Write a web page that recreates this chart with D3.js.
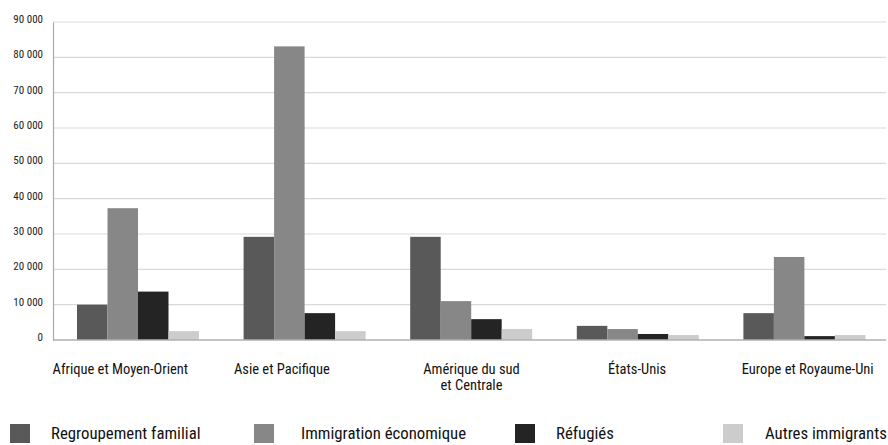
<!DOCTYPE html>
<html lang="fr">
<head>
<meta charset="utf-8">
<script src="https://cdn.jsdelivr.net/npm/d3@7"></script>
<style>
  html, body { margin: 0; padding: 0; background: #fff; }
  svg { display: block; }
  svg text { font-family: "Roboto", sans-serif; font-stretch: condensed; }
</style>
</head>
<body>
<svg id="chart" width="888" height="445"></svg>
<script>
// Régions d'origine
const categories = [
  ["Afrique et Moyen-Orient"],
  ["Asie et Pacifique"],
  ["Amérique du sud", "et Centrale"],
  ["États-Unis"],
  ["Europe et Royaume-Uni"]
];
const categoryKeys = ["afrique", "asie", "amerique", "etatsunis", "europe"];

// Catégories d'immigration
const seriesNames = ["Regroupement familial", "Immigration économique", "Réfugiés", "Autres immigrants"];
const seriesColors = ["#595959", "#878787", "#242424", "#cccccc"];

// Nombre d'admissions par catégorie (une valeur par région)
const regroupementFamilial = [10000, 29200, 29200, 4000, 7600];
const immigrationEconomique = [37300, 83100, 11000, 3100, 23500];
const refugies = [13700, 7600, 5900, 1700, 1100];
const autresImmigrants = [2500, 2500, 3100, 1400, 1400];

const yTicks = [0, 10000, 20000, 30000, 40000, 50000, 60000, 70000, 80000, 90000];

const seriesValues = [regroupementFamilial, immigrationEconomique, refugies, autresImmigrants];

const svg = d3.select("#chart");
const plot = { left: 53, right: 886, top: 22, bottom: 340 };

const y = d3.scaleLinear().domain([0, 90000]).range([plot.bottom, plot.top]);
const x0 = d3.scaleBand().domain(categoryKeys).range([plot.left, plot.right]).padding(0);
const x1 = d3.scaleBand().domain(d3.range(seriesNames.length))
  .range([24, 24 + 122]).padding(0);

const fmt = v => d3.format(",")(v).replace(/,/g, " ");

// Lignes de quadrillage horizontales
svg.append("g")
  .selectAll("line")
  .data(yTicks.filter(t => t > 0))
  .join("line")
  .attr("x1", plot.left).attr("x2", plot.right)
  .attr("y1", d => y(d)).attr("y2", d => y(d))
  .attr("stroke", "#d9d9d9").attr("stroke-width", 1.2);

// Axe des ordonnées
const yAxis = svg.append("g")
  .attr("transform", `translate(${plot.left},0)`)
  .call(d3.axisLeft(y).tickValues(yTicks).tickFormat(fmt).tickSize(0).tickPadding(10));
yAxis.select(".domain").attr("stroke", "#aaaaaa").attr("stroke-width", 1.2);
yAxis.selectAll("text")
  .attr("font-size", 11).attr("fill", "#222")
  .attr("dy", "0.05em")
  .attr("font-family", null);

// Barres groupées
const groups = svg.append("g")
  .selectAll("g")
  .data(categoryKeys)
  .join("g")
  .attr("transform", d => `translate(${x0(d)},0)`);

groups.selectAll("rect")
  .data((d, i) => seriesValues.map((s, j) => ({ serie: j, value: s[i] })))
  .join("rect")
  .attr("x", d => x1(d.serie))
  .attr("width", x1.bandwidth())
  .attr("y", d => y(d.value))
  .attr("height", d => y(0) - y(d.value))
  .attr("fill", d => seriesColors[d.serie]);

// Ligne de base
svg.append("line")
  .attr("x1", plot.left).attr("x2", plot.right)
  .attr("y1", y(0)).attr("y2", y(0))
  .attr("stroke", "#b0b0b0").attr("stroke-width", 1.5);

// Étiquettes des régions (léger décalage horizontal par étiquette)
const labelShift = [-16, -21, 2, 1, 5];
const labelX = (d, i) => x0(d) + x0.bandwidth() / 2 + labelShift[i];
const labels = svg.append("g")
  .selectAll("text")
  .data(categoryKeys)
  .join("text")
  .attr("y", 374)
  .attr("text-anchor", "middle")
  .attr("font-size", 14.5)
  .attr("fill", "#111");
labels.each(function (d, i) {
  d3.select(this).selectAll("tspan")
    .data(categories[i])
    .join("tspan")
    .attr("x", labelX(d, i))
    .attr("dy", (t, k) => k === 0 ? 0 : 16)
    .text(t => t);
});

// Légende
const legendX = [10, 254, 515, 723];
const legendTextOffset = [41, 47, 41, 42];
const legend = svg.append("g")
  .selectAll("g")
  .data(seriesNames)
  .join("g")
  .attr("transform", (d, i) => `translate(${legendX[i]},424)`);
legend.append("rect")
  .attr("width", 20).attr("height", 19)
  .attr("fill", (d, i) => seriesColors[i]);
legend.append("text")
  .attr("x", (d, i) => legendTextOffset[i])
  .attr("y", 15)
  .attr("font-size", 16.8)
  .attr("fill", "#111")
  .text(d => d);
</script>
</body>
</html>
